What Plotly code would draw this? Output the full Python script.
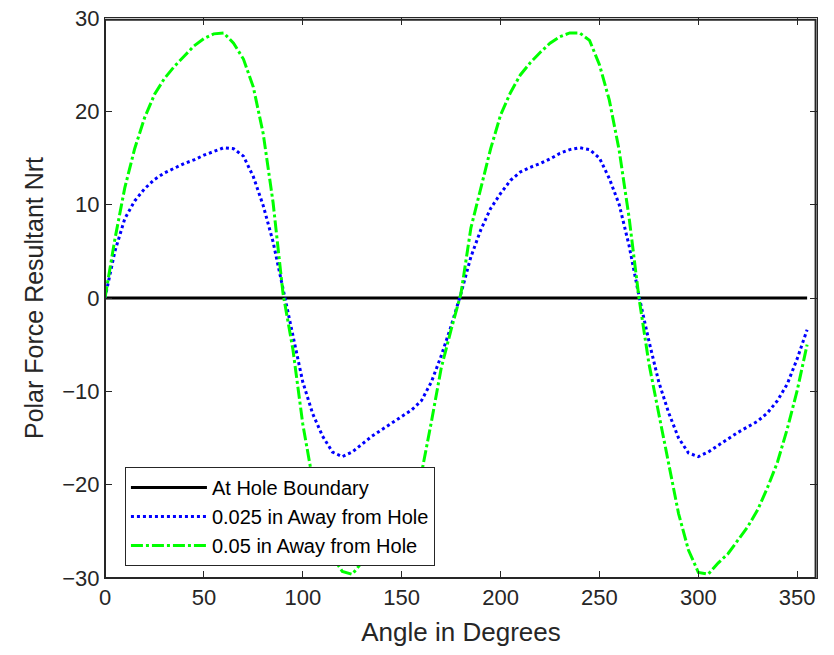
import plotly.graph_objects as go

# angle samples (degrees)
angle = [0, 5, 10, 15, 20, 25, 30, 35, 40, 45, 50, 55, 60, 65, 70, 75, 80, 85,
         90, 95, 100, 105, 110, 115, 120, 125, 130, 135, 140, 145, 150, 155, 160, 165, 170, 175,
         180, 185, 190, 195, 200, 205, 210, 215, 220, 225, 230, 235, 240, 245, 250, 255, 260, 265,
         270, 275, 280, 285, 290, 295, 300, 305, 310, 315, 320, 325, 330, 335, 340, 345, 350, 355]

# at hole boundary
nrt_boundary = [0.0] * 72

# 0.025 in away from hole
nrt_025 = [0.0, 5.0, 8.5, 10.4, 11.7, 12.7, 13.4, 13.9, 14.4, 14.8, 15.3, 15.7, 16.1, 16.0, 15.2, 13.0, 9.9, 6.0,
           1.0, -4.2, -9.0, -12.4, -14.8, -16.5, -17.0, -16.5, -15.6, -14.8, -14.1, -13.4, -12.7, -12.0, -11.0, -9.0, -6.2, -3.0,
           0.5, 4.4, 7.3, 9.6, 11.2, 12.6, 13.5, 14.0, 14.4, 14.9, 15.5, 15.9, 16.1, 15.9, 15.0, 12.8, 10.0, 5.6,
           0.2, -4.6, -9.0, -12.3, -15.0, -16.6, -17.0, -16.5, -15.8, -15.1, -14.4, -13.8, -13.2, -12.3, -11.0, -9.2, -6.5, -3.4]

# 0.05 in away from hole
nrt_05 = [0.0, 6.3, 11.8, 16.0, 19.3, 21.8, 23.5, 24.8, 25.9, 27.0, 27.8, 28.3, 28.4, 27.3, 25.6, 22.6, 17.6, 10.2,
          0.5, -5.5, -13.5, -19.5, -24.5, -27.7, -29.3, -29.6, -28.3, -27.0, -25.5, -24.0, -22.5, -20.8, -18.8, -13.3, -7.5, -3.4,
          0.5, 7.5, 11.6, 16.0, 19.6, 22.0, 23.9, 25.2, 26.3, 27.3, 28.0, 28.4, 28.4, 27.6, 25.0, 21.2, 15.8, 8.6,
          0.0, -7.0, -12.4, -17.7, -23.1, -27.0, -29.4, -29.6, -28.4, -27.4, -26.0, -24.5, -22.7, -20.3, -17.6, -14.0, -9.9, -5.0]

font = "Arial, Liberation Sans, sans-serif"
ink = "#262626"

fig = go.Figure()
fig.add_trace(go.Scatter(x=angle, y=nrt_boundary, mode="lines", name="At Hole Boundary",
                         line=dict(color="#000000", width=3)))
fig.add_trace(go.Scatter(x=angle, y=nrt_025, mode="lines", name="0.025 in Away from Hole",
                         line=dict(color="#0000FF", width=3, dash="dot")))
fig.add_trace(go.Scatter(x=angle, y=nrt_05, mode="lines", name="0.05 in Away from Hole",
                         line=dict(color="#00FF00", width=3, dash="12px,3px,3px,3px")))

axis_style = dict(showgrid=False, zeroline=False, showline=True, linecolor=ink, linewidth=1,
                  mirror="ticks", ticks="inside", ticklen=7, tickcolor=ink, automargin=False,
                  ticklabeloverflow="allow",
                  tickfont=dict(family=font, size=22, color=ink))

fig.update_xaxes(range=[0, 360], tickvals=[0, 50, 100, 150, 200, 250, 300, 350],
                 title=dict(text="Angle in Degrees", font=dict(family=font, size=26, color=ink), standoff=13),
                 **axis_style)
fig.update_yaxes(range=[-30, 30], tickvals=[-30, -20, -10, 0, 10, 20, 30],
                 title=dict(text="Polar Force Resultant Nrt", font=dict(family=font, size=25, color=ink), standoff=11),
                 **axis_style)

# box around the axes (matlab "box on"), pulled in a hair so the edge is drawn
fig.add_shape(type="rect", xref="paper", yref="paper", x0=0, x1=0.998, y0=0, y1=0.997,
              line=dict(color=ink, width=2), layer="above")

# page body adds ~8px offset, so the figure is shrunk to fit and margins shifted
fig.update_layout(
    width=818, height=639,
    margin=dict(l=97, r=9, t=10, b=69),
    plot_bgcolor="white", paper_bgcolor="white",
    legend=dict(x=0.028, y=0.198, xanchor="left", yanchor="top",
                bgcolor="white", bordercolor=ink, borderwidth=1,
                font=dict(family=font, size=20, color="#000000"),
                itemwidth=76, tracegroupgap=0),
)

fig.write_html("out.html")
